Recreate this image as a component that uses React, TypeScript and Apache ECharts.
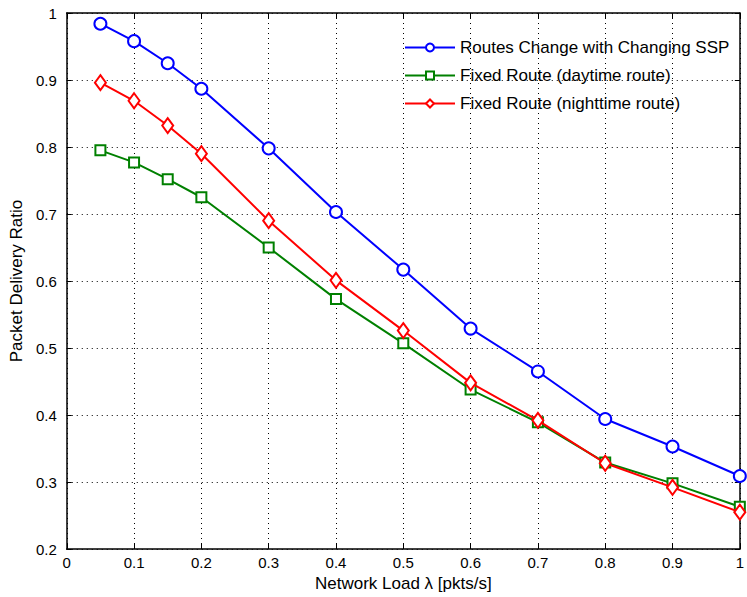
import React, { useEffect, useRef } from "react";
import * as echarts from "echarts";

const loads = [0.05, 0.1, 0.15, 0.2, 0.3, 0.4, 0.5, 0.6, 0.7, 0.8, 0.9, 1.0];
const changingSSP = [0.984, 0.958, 0.925, 0.887, 0.798, 0.703, 0.617, 0.529, 0.465, 0.394, 0.353, 0.309];
const daytimeRoute = [0.795, 0.777, 0.752, 0.725, 0.65, 0.573, 0.507, 0.438, 0.389, 0.329, 0.298, 0.263];
const nighttimeRoute = [0.896, 0.869, 0.832, 0.79, 0.69, 0.601, 0.526, 0.448, 0.392, 0.328, 0.292, 0.255];

const seriesNames = [
  "Routes Change with Changing SSP",
  "Fixed Route (daytime route)",
  "Fixed Route (nighttime route)",
];
const seriesColors = ["#0000ff", "#008000", "#ff0000"];

const FONT = "Liberation Sans, Arial, Helvetica, sans-serif";

export default function App() {
  const ref = useRef<HTMLDivElement>(null);
  useEffect(() => {
    if (!ref.current) return;
    const chart = echarts.init(ref.current, null, { renderer: "svg" });
    const pair = (ys: number[]) => loads.map((x, i) => [x, ys[i]]);
    const gridLine = { show: true, lineStyle: { color: "#000", type: [1, 4], width: 1 } };
    const axisLine = { show: true, onZero: false, lineStyle: { color: "#000", width: 1.5 } };
    const axisTick = { show: true, inside: true, length: 5, lineStyle: { color: "#000", width: 1 } };
    const label = { color: "#000", fontSize: 15, fontFamily: FONT };
    const fmt = (v: number) => String(Math.round(v * 10) / 10);
    const mk = (i: number, ys: number[], symbol: string, size: any) => ({
      name: seriesNames[i],
      type: "line",
      data: pair(ys),
      lineStyle: { width: 2, color: seriesColors[i] },
      symbol,
      symbolSize: size,
      itemStyle: { color: "#fff", borderColor: seriesColors[i], borderWidth: 2 },
      z: 3 + i,
    });
    chart.setOption({
      animation: false,
      backgroundColor: "#fff",
      grid: { left: 63, right: 3, top: 13, bottom: 48, containLabel: false },
      legend: {
        orient: "vertical",
        left: 404,
        top: 39,
        padding: 0,
        itemWidth: 50,
        itemHeight: 10,
        itemGap: 11,
        textStyle: { color: "#000", fontSize: 17, fontFamily: FONT },
        data: seriesNames,
      },
      xAxis: [
        {
          type: "value",
          min: 0,
          max: 1,
          interval: 0.1,
          name: "Network Load λ [pkts/s]",
          nameLocation: "middle",
          nameGap: 26,
          nameTextStyle: { color: "#000", fontSize: 17, fontFamily: FONT },
          axisLine,
          axisTick,
          axisLabel: { ...label, margin: 6, formatter: fmt },
          splitLine: gridLine,
        },
        {
          type: "value",
          position: "top",
          min: 0,
          max: 1,
          interval: 0.1,
          axisLine,
          axisTick,
          axisLabel: { show: false },
          splitLine: { show: false },
        },
      ],
      yAxis: [
        {
          type: "value",
          min: 0.2,
          max: 1,
          interval: 0.1,
          name: "Packet Delivery Ratio",
          nameLocation: "middle",
          nameGap: 36,
          nameTextStyle: { color: "#000", fontSize: 17, fontFamily: FONT },
          axisLine,
          axisTick,
          axisLabel: { ...label, margin: 10, formatter: fmt },
          splitLine: gridLine,
        },
        {
          type: "value",
          position: "right",
          min: 0.2,
          max: 1,
          interval: 0.1,
          axisLine,
          axisTick,
          axisLabel: { show: false },
          splitLine: { show: false },
        },
      ],
      series: [
        mk(0, changingSSP, "circle", 12),
        mk(1, daytimeRoute, "rect", 10),
        mk(2, nighttimeRoute, "diamond", [11, 15]),
      ],
    });
    return () => chart.dispose();
  }, []);
  return <div ref={ref} style={{ width: 747, height: 597, position: "absolute", left: 0, top: 0 }} />;
}
